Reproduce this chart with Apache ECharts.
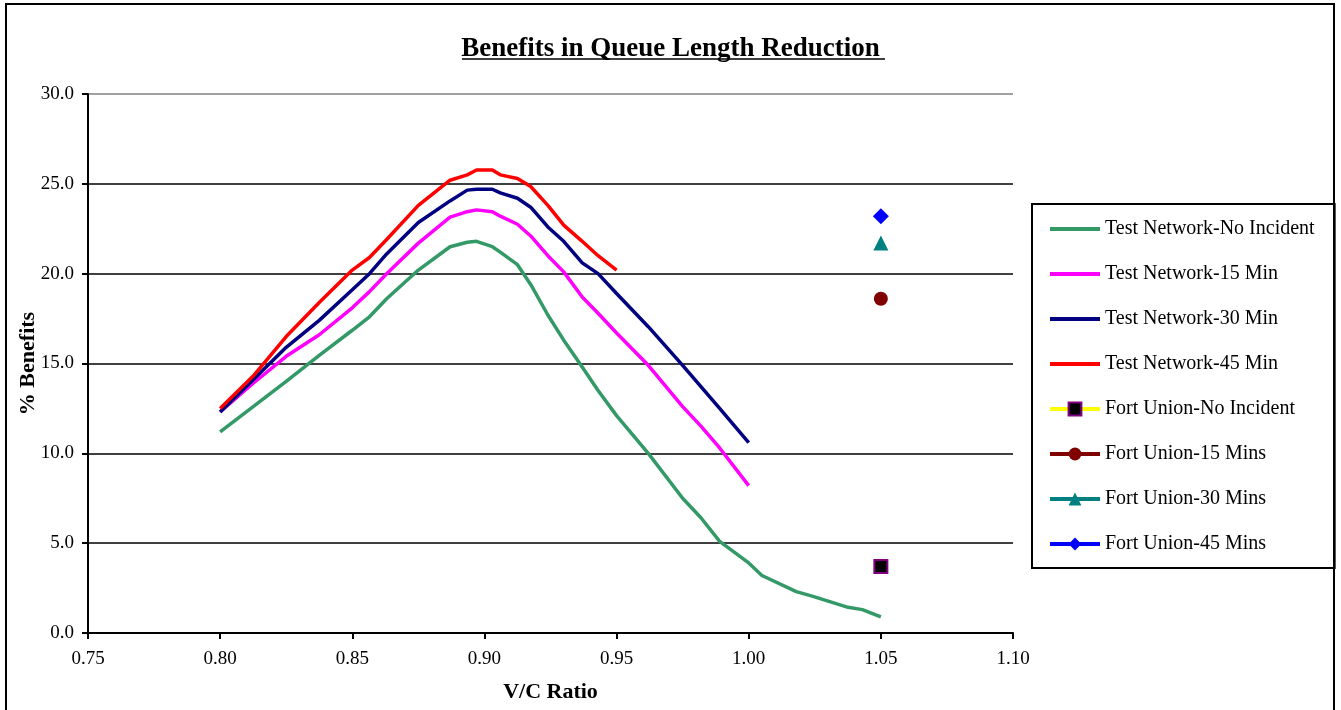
<!DOCTYPE html>
<html>
<head>
<meta charset="utf-8">
<script src="https://cdn.jsdelivr.net/npm/echarts@6/dist/echarts.min.js"></script>
<style>
html,body{margin:0;padding:0;background:#fff;}
#chart{width:1341px;height:710px;}
</style>
</head>
<body>
<div id="chart"></div>
<script>
// V/C ratio sample points shared by the Test Network curves
var vcRatio = [0.800, 0.8125, 0.825, 0.8375, 0.850, 0.8565, 0.863, 0.875, 0.887, 0.8935, 0.897, 0.903, 0.906, 0.9125, 0.9175, 0.924, 0.930, 0.937, 0.943, 0.950, 0.962, 0.975, 0.982, 0.989, 1.000, 1.005, 1.018, 1.024, 1.037, 1.043, 1.050];

var testNoIncident = [11.2, 12.6, 14.0, 15.45, 16.85, 17.6, 18.6, 20.2, 21.5, 21.75, 21.8, 21.5, 21.2, 20.5, 19.4, 17.7, 16.3, 14.8, 13.5, 12.1, 10.0, 7.5, 6.4, 5.1, 3.9, 3.2, 2.3, 2.05, 1.45, 1.3, 0.9];
var test15Min = [12.3, 13.9, 15.4, 16.6, 18.1, 19.0, 20.0, 21.7, 23.15, 23.45, 23.55, 23.45, 23.2, 22.75, 22.1, 21.0, 20.1, 18.7, 17.8, 16.7, 14.9, 12.6, 11.5, 10.3, 8.2, null, null, null, null, null, null];
var test30Min = [12.3, 14.1, 15.9, 17.4, 19.1, 20.0, 21.1, 22.85, 24.05, 24.65, 24.7, 24.7, 24.5, 24.2, 23.7, 22.6, 21.8, 20.6, 20.0, 18.9, 17.05, 14.9, 13.7, 12.5, 10.6, null, null, null, null, null, null];
var test45Min = [12.5, 14.3, 16.5, 18.4, 20.2, 20.9, 21.9, 23.8, 25.2, 25.5, 25.77, 25.77, 25.5, 25.3, 24.85, 23.8, 22.7, 21.8, 21.0, 20.2, null, null, null, null, null, null, null, null, null, null, null];

// Fort Union observations (single V/C ratio)
var fortUnionVC = 1.05;
var fortNoIncident = 3.7;
var fort15Mins = 18.6;
var fort30Mins = 21.7;
var fort45Mins = 23.2;

var seriesNames = ['Test Network-No Incident', 'Test Network-15 Min', 'Test Network-30 Min', 'Test Network-45 Min',
                   'Fort Union-No Incident', 'Fort Union-15 Mins', 'Fort Union-30 Mins', 'Fort Union-45 Mins'];

var xTicks = [0.75, 0.80, 0.85, 0.90, 0.95, 1.00, 1.05, 1.10];
var yTicks = [0, 5, 10, 15, 20, 25, 30];

function pairs(xs, ys) {
  var out = [];
  for (var i = 0; i < xs.length; i++) {
    if (ys[i] !== null) out.push([xs[i], ys[i]]);
  }
  return out;
}

var FONT = '"Liberation Serif", "Times New Roman", serif';

function lineSeries(name, ys, color) {
  return {
    name: name, type: 'line', data: pairs(vcRatio, ys),
    symbol: 'none', smooth: false,
    lineStyle: { color: color, width: 3.5 },
    itemStyle: { color: color },
    emphasis: { disabled: true }, animation: false
  };
}

function pointSeries(name, y, lineColor, symbol, size, fill, border) {
  return {
    name: name, type: 'line', data: [[fortUnionVC, y]],
    symbol: symbol, symbolSize: size, showSymbol: true,
    lineStyle: { color: lineColor, width: 4 },
    itemStyle: { color: fill, borderColor: border || fill, borderWidth: border ? 2 : 0, opacity: 1 },
    emphasis: { disabled: true }, animation: false
  };
}

var legendData = seriesNames.map(function (n, i) {
  if (i < 4) {
    return { name: n, icon: 'path://M0,0 L50,0 L50,4 L0,4 Z', itemStyle: { borderWidth: 0 } };
  }
  return { name: n, lineStyle: { width: 4 } };
});

var chart = echarts.init(document.getElementById('chart'), null, { renderer: 'canvas' });
chart.setOption({
  backgroundColor: '#fff',
  animation: false,
  textStyle: { fontFamily: FONT, color: '#000' },
  title: {
    text: 'Benefits in Queue Length Reduction',
    left: 'center', top: 31,
    textStyle: { fontFamily: FONT, fontSize: 27, fontWeight: 'bold', color: '#000' }
  },
  graphic: [
    { type: 'rect', shape: { x: 6, y: 4, width: 1328, height: 730 }, style: { fill: null, stroke: '#000', lineWidth: 2 }, silent: true, z: 100 },
    { type: 'line', shape: { x1: 462, y1: 59, x2: 885, y2: 59 }, style: { stroke: '#000', lineWidth: 1.5 }, silent: true }
  ],
  grid: { left: 88, right: 328, top: 94, bottom: 77, containLabel: false },
  legend: {
    orient: 'vertical',
    left: 1032, top: 204,
    data: legendData,
    itemWidth: 50, itemHeight: 16, itemGap: 25,
    padding: [15, 20, 14, 16],
    borderColor: '#000', borderWidth: 2,
    backgroundColor: '#fff',
    textStyle: { fontFamily: FONT, fontSize: 20, color: '#000' },
    selectedMode: false
  },
  xAxis: {
    type: 'value', min: 0.75, max: 1.10, interval: 0.05,
    name: 'V/C Ratio', nameLocation: 'middle', nameGap: 48,
    nameTextStyle: { fontFamily: FONT, fontSize: 22, fontWeight: 'bold', color: '#000' },
    axisLine: { show: true, onZero: false, lineStyle: { color: '#000', width: 2 } },
    axisTick: { show: true, length: 6, lineStyle: { color: '#000', width: 2 } },
    axisLabel: { fontFamily: FONT, fontSize: 19, color: '#000', margin: 17,
      formatter: function (v) { return v.toFixed(2); } },
    splitLine: { show: false }
  },
  yAxis: {
    type: 'value', min: 0, max: 30, interval: 5,
    name: '% Benefits', nameLocation: 'middle', nameGap: 49, nameRotate: 90,
    nameMoveOverlap: false,
    nameTextStyle: { fontFamily: FONT, fontSize: 22, fontWeight: 'bold', color: '#000' },
    axisLine: { show: true, lineStyle: { color: '#000', width: 2 } },
    axisTick: { show: true, length: 6, lineStyle: { color: '#000', width: 2 } },
    axisLabel: { fontFamily: FONT, fontSize: 19, color: '#000', margin: 14,
      formatter: function (v) { return v.toFixed(1); } },
    splitLine: { show: true, lineStyle: { color: ['#000', '#000', '#000', '#000', '#000', '#000', '#808080'], width: 1.5 } }
  },
  series: [
    lineSeries(seriesNames[0], testNoIncident, '#339966'),
    lineSeries(seriesNames[1], test15Min, '#FF00FF'),
    lineSeries(seriesNames[2], test30Min, '#000080'),
    lineSeries(seriesNames[3], test45Min, '#FF0000'),
    pointSeries(seriesNames[4], fortNoIncident, '#FFFF00', 'rect', 13, '#000', '#800080'),
    pointSeries(seriesNames[5], fort15Mins, '#800000', 'circle', 14, '#800000'),
    pointSeries(seriesNames[6], fort30Mins, '#008080', 'triangle', 15, '#008080'),
    pointSeries(seriesNames[7], fort45Mins, '#0000FF', 'diamond', 16, '#0000FF')
  ]
});
</script>
</body>
</html>
